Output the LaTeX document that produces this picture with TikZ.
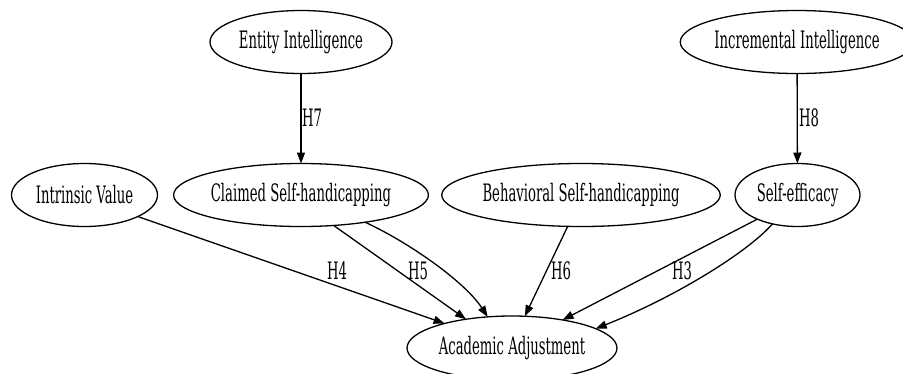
\documentclass[tikz,border=0pt]{standalone}
\usepackage{fontspec}
\setmainfont{DejaVu Serif}[FakeStretch=0.55]
\usetikzlibrary{arrows.meta,shapes.geometric}
\begin{document}
\begin{tikzpicture}[x=1pt,y=-1pt,
  ell/.style={ellipse,draw,line width=1.3pt,inner sep=0pt,outer sep=0pt,minimum height=63pt,font=\fontsize{24}{28}\selectfont},
  edge/.style={line width=1.3pt,-{Triangle[length=11pt,width=8pt]}},
  lab/.style={font=\fontsize{24}{28}\selectfont,inner sep=0pt}]
\useasboundingbox (0,0) rectangle (903,373);
\node[ell,minimum width=182pt] (ei) at (301,42) {Entity Intelligence};
\node[ell,minimum width=212pt] (ii) at (797,42) {Incremental Intelligence};
\node[ell,minimum width=146pt] (iv) at (84.5,195) {Intrinsic Value};
\node[ell,minimum width=252pt] (cs) at (301,195) {Claimed Self-handicapping};
\node[ell,minimum width=274pt] (bs) at (581,195) {Behavioral Self-handicapping};
\node[ell,minimum width=125pt] (se) at (797.5,195) {Self-efficacy};
\node[ell,minimum width=210pt,minimum height=64pt] (aa) at (512,348) {Academic Adjustment};
\draw[edge] (ei) -- (cs);
\draw[edge] (ii) -- (se);
\draw[edge] (iv.-22) -- (aa.160);
\draw[edge] (cs.-43) -- (aa.148);
\draw[edge] (cs.-23) .. controls (410,243) and (465,282) .. (aa.128);
\draw[edge] (bs.-113) -- (aa.68);
\draw[edge] (se.-149) -- (aa.29);
\draw[edge] (se.-131) .. controls (750,250) and (680,295) .. (aa.13);
\node[lab,anchor=west] (h7) at (302,118) {H7};
\node[lab,anchor=west] (h8) at (799,118) {H8};
\node[lab] (h4) at (337,271) {H4};
\node[lab] (h5) at (418,271) {H5};
\node[lab] (h6) at (561,271) {H6};
\node[lab] (h3) at (682,271) {H3};
\end{tikzpicture}
\end{document}
